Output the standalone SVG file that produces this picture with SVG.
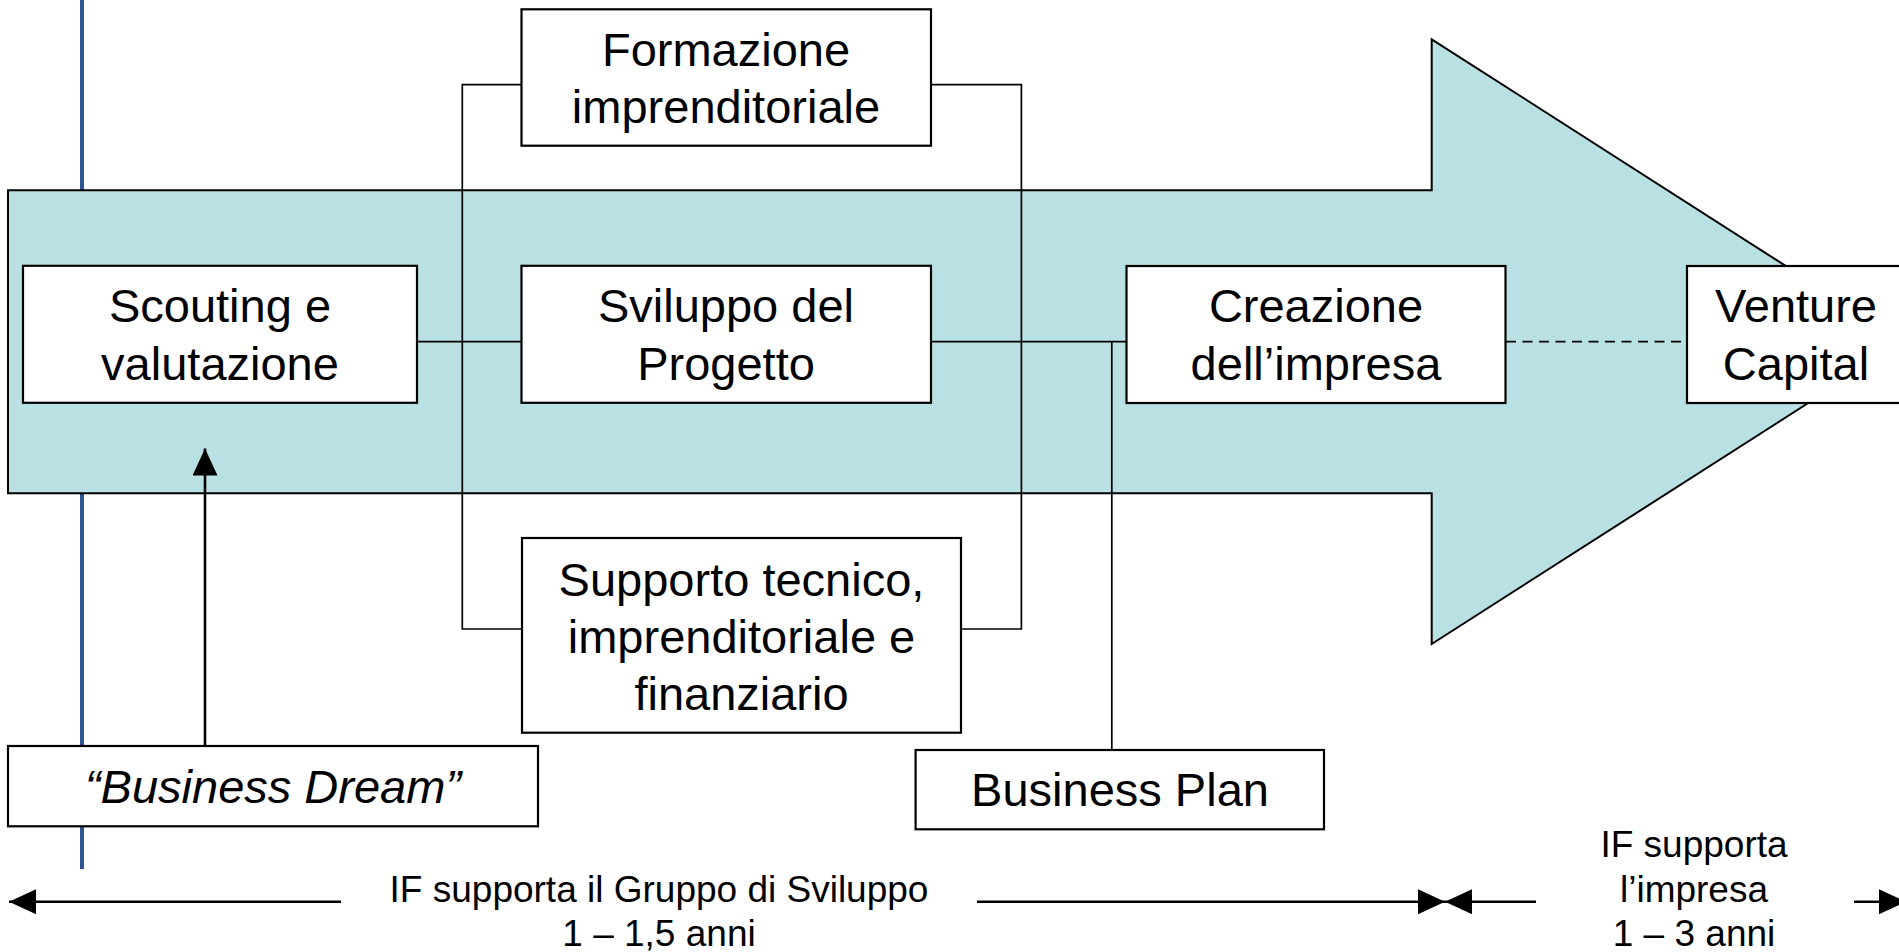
<svg xmlns="http://www.w3.org/2000/svg" width="1899" height="952" viewBox="0 0 1899 952">
  <style>
    .box { fill: #FFFFFF; stroke: #000000; stroke-width: 2.2; }
    .t { font-family: "Liberation Sans", Arial, sans-serif; font-size: 47px; fill: #000000; text-anchor: middle; }
    .ts { font-family: "Liberation Sans", Arial, sans-serif; font-size: 37px; fill: #000000; text-anchor: middle; }
    .conn { fill: none; stroke: #000000; stroke-width: 1.7; }
    .arr { fill: none; stroke: #000000; stroke-width: 2.6; }
  </style>
  <defs>
    <marker id="ah" markerUnits="userSpaceOnUse" markerWidth="28" markerHeight="26" refX="27" refY="12.5" orient="auto">
      <path d="M0,0 L27,12.5 L0,25 z" fill="#000000"/>
    </marker>
  </defs>
  <rect x="0" y="0" width="1899" height="952" fill="#FFFFFF"/>

  <line id="timeline" x1="82" y1="0" x2="82" y2="869" stroke="#2F5597" stroke-width="4"/>

  <polygon id="big-arrow" points="8,190.3 1431.7,190.3 1431.7,39.3 1904,341.7 1431.7,644 1431.7,493.3 8,493.3" fill="#B9E0E3" stroke="#000000" stroke-width="2"/>

  <g id="connectors">
    <polyline class="conn" points="522,84.7 462.3,84.7 462.3,629 522,629"/>
    <polyline class="conn" points="931,84.7 1021.4,84.7 1021.4,629 961,629"/>
    <line class="conn" x1="417" y1="341.7" x2="522" y2="341.7"/>
    <line class="conn" x1="931" y1="341.7" x2="1127" y2="341.7"/>
    <line class="conn" x1="1111.8" y1="341.7" x2="1111.8" y2="750"/>
    <line class="conn" x1="1506" y1="341.7" x2="1687" y2="341.7" stroke-width="2.8" stroke-dasharray="10 6.5"/>
    <line class="arr" x1="205" y1="746" x2="205" y2="448.5" marker-end="url(#ah)"/>
    <line class="arr" x1="341" y1="901.7" x2="9" y2="901.7" marker-end="url(#ah)"/>
    <line class="arr" x1="977" y1="901.7" x2="1445" y2="901.7" marker-end="url(#ah)"/>
    <line class="arr" x1="1536" y1="901.7" x2="1445" y2="901.7" marker-end="url(#ah)"/>
    <line class="arr" x1="1854" y1="901.7" x2="1906" y2="901.7" marker-end="url(#ah)"/>
  </g>

  <g id="formazione">
    <rect class="box" x="521.5" y="9.3" width="409.5" height="136.4"/>
    <text class="t" x="726" y="66">Formazione</text>
    <text class="t" x="726" y="123">imprenditoriale</text>
  </g>

  <g id="scouting">
    <rect class="box" x="23" y="265.8" width="394" height="137"/>
    <text class="t" x="220" y="322">Scouting e</text>
    <text class="t" x="220" y="380">valutazione</text>
  </g>

  <g id="sviluppo">
    <rect class="box" x="521.5" y="265.8" width="409.5" height="137"/>
    <text class="t" x="726" y="322">Sviluppo del</text>
    <text class="t" x="726" y="380">Progetto</text>
  </g>

  <g id="creazione">
    <rect class="box" x="1126.5" y="266" width="379" height="137"/>
    <text class="t" x="1316" y="322">Creazione</text>
    <text class="t" x="1316" y="380">dell’impresa</text>
  </g>

  <g id="venture">
    <rect class="box" x="1687" y="266" width="220" height="137"/>
    <text class="t" x="1796" y="322">Venture</text>
    <text class="t" x="1796" y="380">Capital</text>
  </g>

  <g id="supporto">
    <rect class="box" x="522" y="538" width="439" height="194.7"/>
    <text class="t" x="741.5" y="596">Supporto tecnico,</text>
    <text class="t" x="741.5" y="653">imprenditoriale e</text>
    <text class="t" x="741.5" y="710">finanziario</text>
  </g>

  <g id="business-dream">
    <rect class="box" x="8" y="746" width="530" height="80.3"/>
    <text class="t" x="273" y="803" font-style="italic">“Business Dream”</text>
  </g>

  <g id="business-plan">
    <rect class="box" x="915.6" y="750" width="408.4" height="79.3"/>
    <text class="t" x="1120" y="806">Business Plan</text>
  </g>

  <g id="label-gruppo">
    <text class="ts" x="659" y="902">IF supporta il Gruppo di Sviluppo</text>
    <text class="ts" x="659" y="946">1 – 1,5 anni</text>
  </g>

  <g id="label-impresa">
    <text class="ts" x="1694" y="857">IF supporta</text>
    <text class="ts" x="1694" y="902">l’impresa</text>
    <text class="ts" x="1694" y="946">1 – 3 anni</text>
  </g>
</svg>
